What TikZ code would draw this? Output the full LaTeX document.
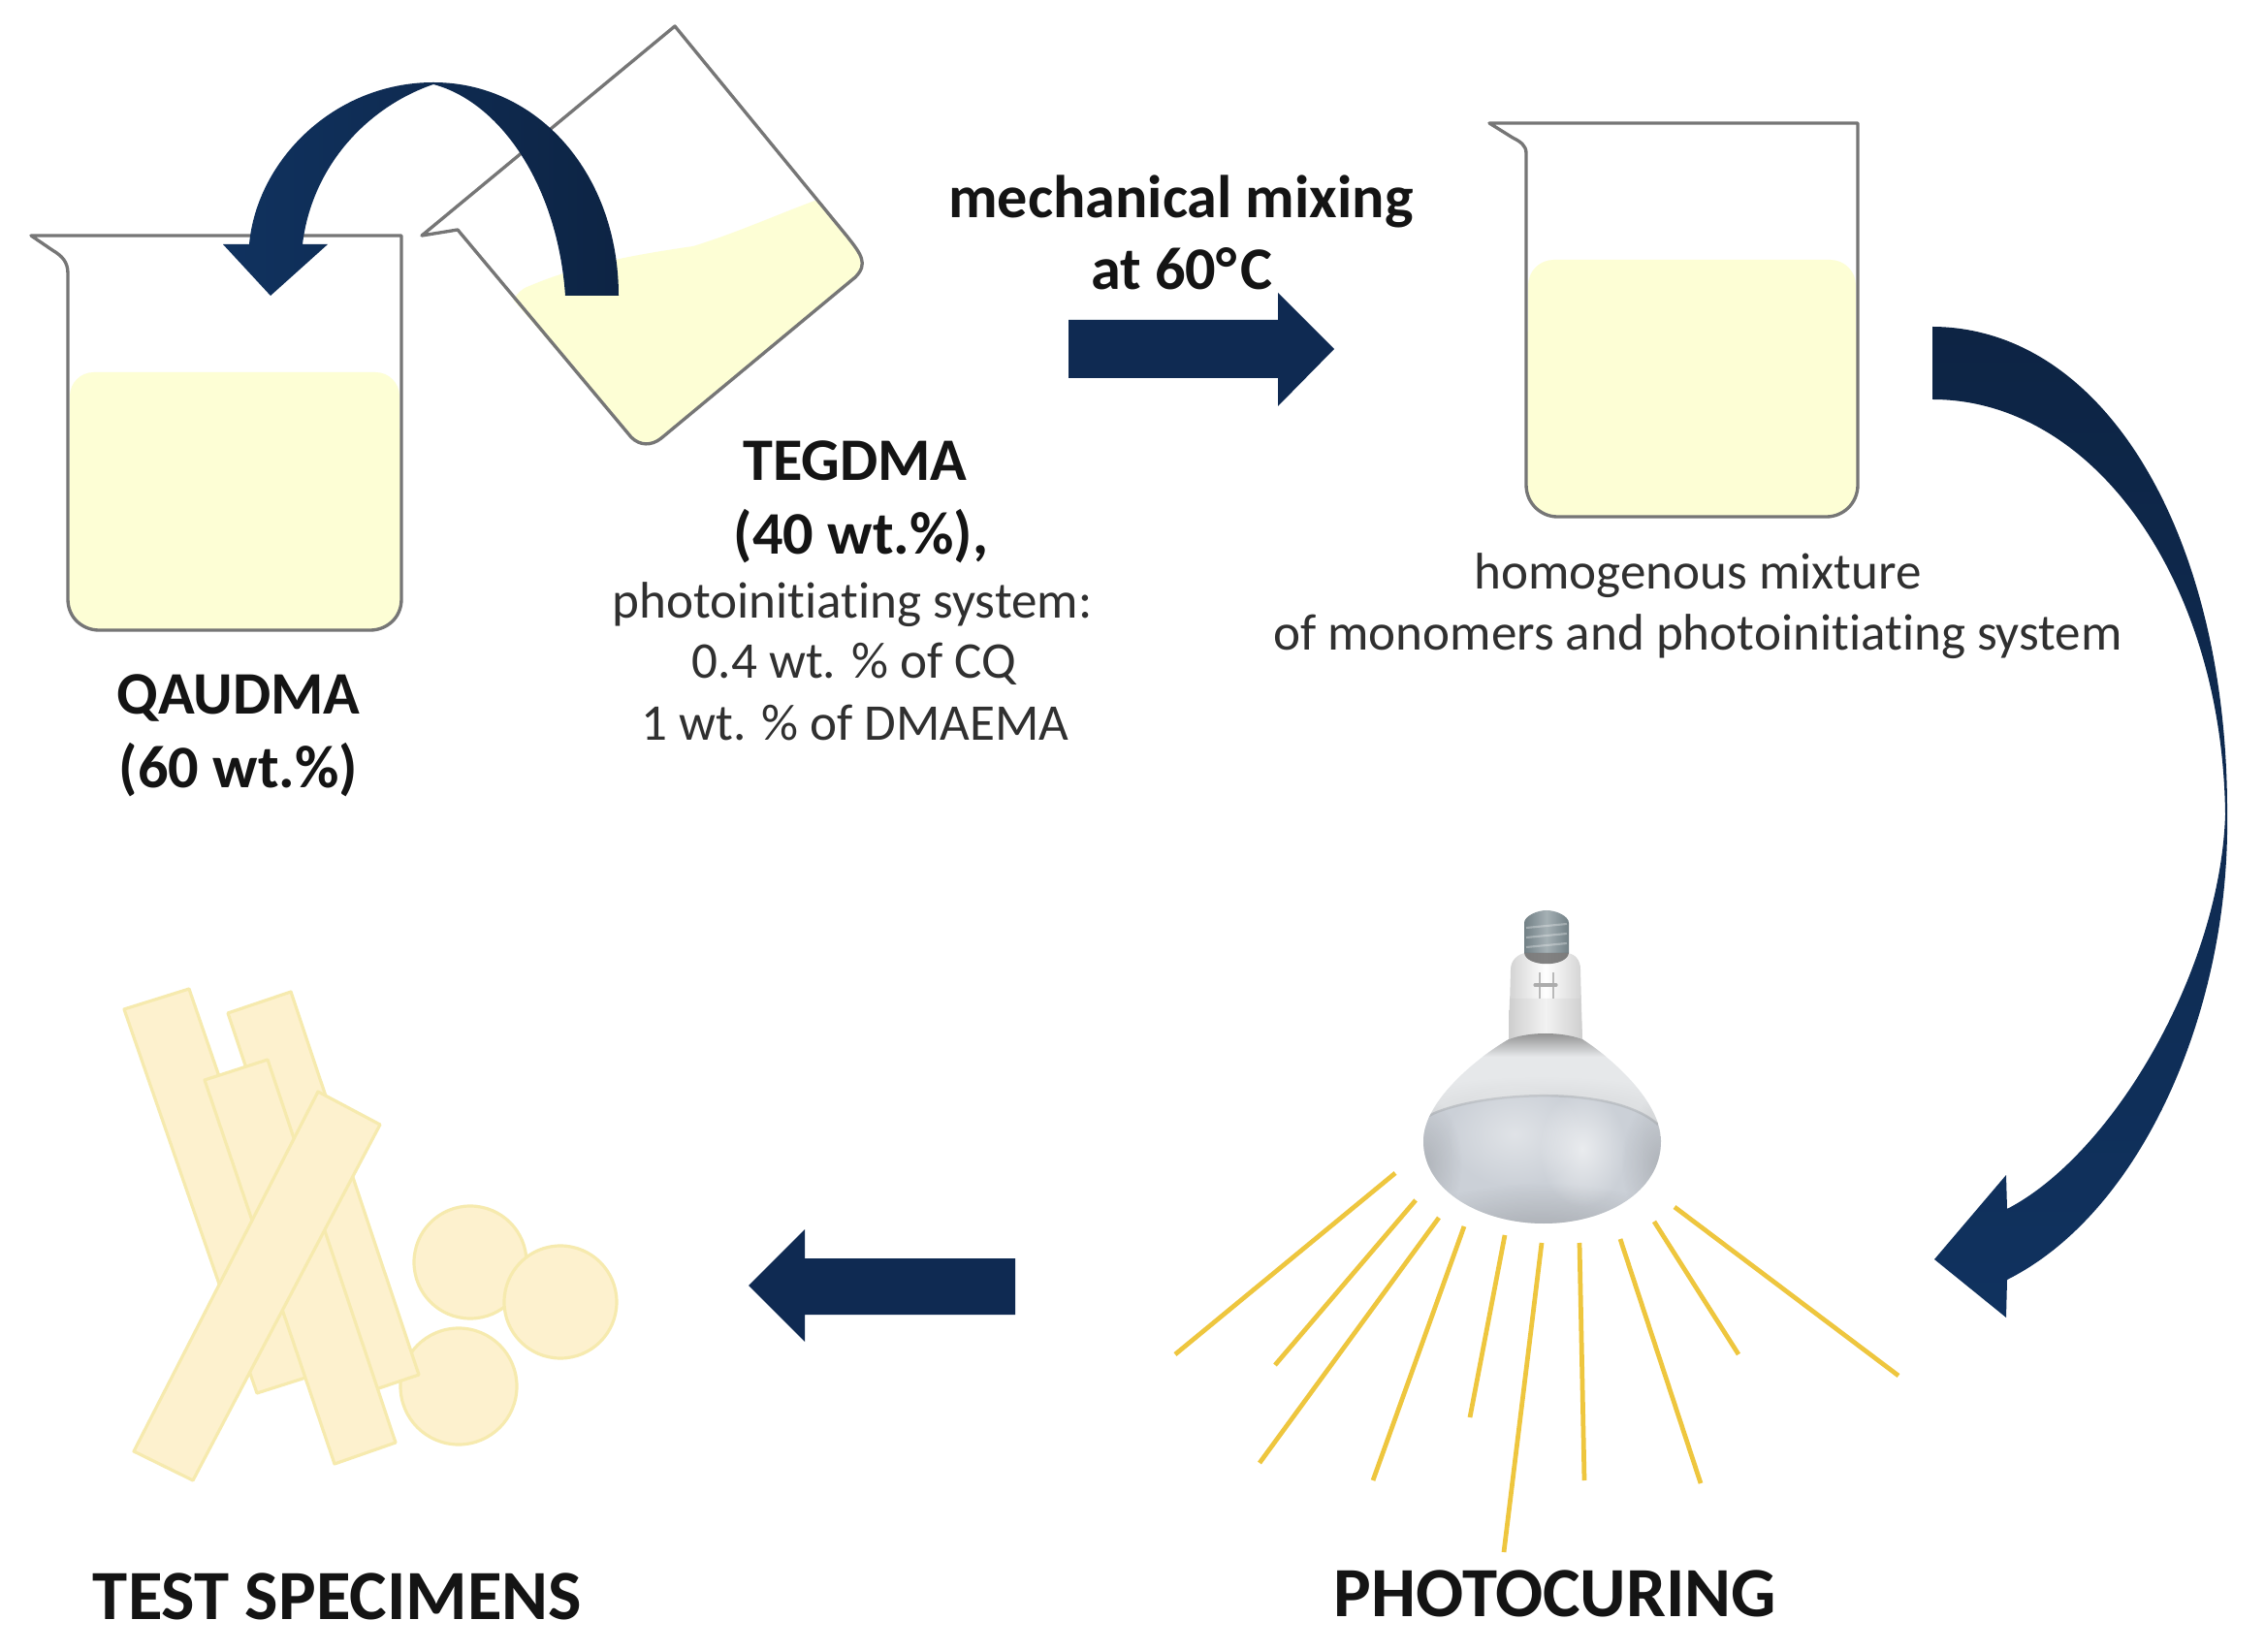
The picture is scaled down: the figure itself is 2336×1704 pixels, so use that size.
\documentclass[tikz,border=0pt]{standalone}
\usepackage{fontspec}
\setmainfont[Ligatures=NoCommon]{Carlito}
\usetikzlibrary{fadings}
\definecolor{navy}{HTML}{0F2A52}
\definecolor{navyL}{HTML}{10325F}
\definecolor{navyD}{HTML}{0D2444}
\definecolor{glassline}{HTML}{767676}
\definecolor{liquidc}{HTML}{FDFED5}
\definecolor{rayc}{HTML}{EEC63E}
\definecolor{stripf}{HTML}{FDF1CE}
\definecolor{strips}{HTML}{F6EAAE}
\definecolor{txtreg}{HTML}{303030}
\definecolor{txtbold}{HTML}{141414}
\definecolor{domeup}{HTML}{E6E8EA}
\definecolor{domelow}{HTML}{CBD0D7}
\definecolor{domeedge}{HTML}{B4B8BD}
\definecolor{screwc}{HTML}{7E8E94}
\tikzfading[name=softglow,inner color=transparent!25,outer color=transparent!100]
\tikzset{
  glass/.style={draw=glassline,line width=0.95pt,line join=round},
  liquid/.style={fill=liquidc,draw=none},
  arrowfill/.style={fill=navy,draw=none},
  raybeam/.style={draw=rayc,line width=1.35pt},
  stripbar/.style={fill=stripf,draw=strips,line width=0.9pt,line join=round},
  disc/.style={fill=stripf,draw=strips,line width=0.9pt},
  boldlab/.style={anchor=base,inner sep=0pt,font=\fontsize{17.7pt}{20pt}\selectfont\bfseries,text=txtbold},
  biglab/.style={anchor=base,inner sep=0pt,font=\fontsize{20.7pt}{23pt}\selectfont\bfseries,text=txtbold},
  reglab/.style={anchor=base,inner sep=0pt,font=\fontsize{15.1pt}{18pt}\selectfont,text=txtreg},
}
\begin{document}
\begin{tikzpicture}[x=0.01cm,y=-0.01cm]
\useasboundingbox (0,0) rectangle (2336,1704);
\fill[white] (0,0) rectangle (2336,1704);

% ---- beaker 1 (QAUDMA)
\fill[liquid,rounded corners=7pt] (72,384) -- (412,384) -- (412,500) -- (72,500) -- cycle;
\fill[liquid,rounded corners=9pt] (72,420) -- (414,420) -- (414,650) -- (70,650) -- cycle;
\draw[glass] (32,243) -- (414,243) -- (414,618) .. controls (414,638) and (398,650) .. (382,650)
  -- (102,650) .. controls (86,650) and (70,638) .. (70,618) -- (70,282)
  .. controls (70,270) and (64,264) .. (54,258) -- cycle;

% ---- beaker 2 (TEGDMA, tilted)
\fill[liquid] (530,310) .. controls (533,302) and (538,298) .. (546,295)
  .. controls (600,272) and (660,262) .. (715,254)
  .. controls (760,240) and (800,222) .. (843,206)
  -- (873,243) .. controls (888,262) and (896,272) .. (882,286)
  -- (682,452) .. controls (672,460) and (660,460) .. (651,451) -- cycle;
\draw[glass] (696,27) -- (435,243) -- (472,237) -- (651,451)
  .. controls (660,460) and (672,460) .. (682,452)
  -- (882,286) .. controls (896,272) and (888,262) .. (873,243) -- cycle;

% ---- beaker 3 (mixture)
\fill[liquid,rounded corners=7.5pt] (1576,268) -- (1914,268) -- (1914,400) -- (1576,400) -- cycle;
\fill[liquid,rounded corners=9pt] (1574,320) -- (1916,320) -- (1916,533) -- (1574,533) -- cycle;
\draw[glass] (1536,127) -- (1916,127) -- (1916,500) .. controls (1916,520) and (1900,533) .. (1884,533)
  -- (1606,533) .. controls (1590,533) and (1574,520) .. (1574,500) -- (1574,158)
  .. controls (1574,150) and (1568,146) .. (1560,142) -- cycle;

% ---- curved arrow over beakers
\shade[left color=navyL,right color=navyD] (638,305)
  .. controls (638,180) and (555,85) .. (447,85)
  .. controls (345,85) and (265,165) .. (257,252)
  -- (230,252) -- (279,305) -- (338,252) -- (312,252)
  .. controls (322,170) and (380,110) .. (447,87)
  .. controls (515,105) and (575,190) .. (583,305)
  -- cycle;

% ---- straight arrows
\fill[arrowfill] (1102,330) -- (1318,330) -- (1318,302) -- (1376,360) -- (1318,419) -- (1318,390) -- (1102,390) -- cycle;
\fill[arrowfill] (1047,1298) -- (830,1298) -- (830,1268) -- (772,1326) -- (830,1384) -- (830,1356) -- (1047,1356) -- cycle;

% ---- large curved arrow at right
\shade[top color=navyD,bottom color=navyL] (1993,337)
  .. controls (2175,338) and (2298,560) .. (2297,840)
  .. controls (2300,1040) and (2210,1250) .. (2070,1320)
  -- (2069,1359) -- (1995,1299) -- (2069,1212) -- (2070,1247)
  .. controls (2180,1190) and (2290,1000) .. (2295,840)
  .. controls (2292,600) and (2160,412) .. (1993,412)
  -- cycle;

% ---- specimens
\draw[disc] (485,1302) circle (58);
\draw[disc] (578,1343) circle (58);
\draw[disc] (473,1430) circle (60);
\draw[stripbar] (128,1041) -- (195,1020) -- (331,1416) -- (265,1437) -- cycle;
\draw[stripbar] (235,1045) -- (300,1023) -- (432,1418) -- (367,1440) -- cycle;
\draw[stripbar] (211,1114) -- (276,1093) -- (408,1488) -- (345,1510) -- cycle;
\draw[stripbar] (328,1126) -- (392,1160) -- (199,1527) -- (138,1497) -- cycle;

% ---- light rays
\draw[raybeam] (1439,1210) -- (1212,1397);
\draw[raybeam] (1460,1238) -- (1315,1408);
\draw[raybeam] (1484,1256) -- (1299,1509);
\draw[raybeam] (1510,1265) -- (1416,1527);
\draw[raybeam] (1552,1274) -- (1516,1462);
\draw[raybeam] (1590,1282) -- (1551,1601);
\draw[raybeam] (1629,1282) -- (1634,1527);
\draw[raybeam] (1671,1278) -- (1754,1530);
\draw[raybeam] (1706,1260) -- (1793,1397);
\draw[raybeam] (1727,1245) -- (1958,1419);

% ---- bulb: neck
\shade[left color=gray!35,right color=gray!35,middle color=white]
  (1556,1072) -- (1558,1000) .. controls (1558,990) and (1566,984) .. (1573,983)
  -- (1617,983) .. controls (1624,984) and (1630,990) .. (1630,1000) -- (1632,1072) -- cycle;
\shade[left color=gray!38,right color=gray!38,middle color=gray!10] (1557,1030) -- (1630,1030) -- (1632,1072) -- (1556,1072) -- cycle;
\draw[gray!55,line width=.3pt] (1588,1003) -- (1588,1030) (1602,1003) -- (1602,1030);
\draw[gray!65,line width=.9pt,line cap=round] (1583,1016) -- (1605,1016);
% screw base
\shade[left color=screwc!90!black,right color=screwc!90!black,middle color=screwc!70!white] (1572,983) -- (1572,952)
  .. controls (1572,945) and (1585,939) .. (1595,939)
  .. controls (1605,939) and (1618,945) .. (1618,952) -- (1618,983) -- cycle;
\draw[white,opacity=.3,line width=.6pt] (1574,957) -- (1616,953) (1574,967) -- (1616,963) (1574,977) -- (1616,973);
\fill[black!65,opacity=.75] (1572,983) -- (1618,983) .. controls (1616,998) and (1574,998) .. (1572,983) -- cycle;
% reflector
\begin{scope}
\clip (1556,1072) .. controls (1525,1090) and (1468,1135) .. (1468,1177)
  .. controls (1468,1230) and (1530,1262) .. (1592,1262)
  .. controls (1655,1262) and (1713,1230) .. (1713,1177)
  .. controls (1713,1135) and (1660,1090) .. (1632,1072)
  .. controls (1610,1064) and (1578,1064) .. (1556,1072) -- cycle;
\fill[domeup] (1440,1050) rectangle (1740,1280);
\shade[top color=black!45,bottom color=domeup] (1440,1064) rectangle (1740,1090);
\fill[black,opacity=.1,path fading=softglow] (1590,1150) ellipse (170 and 40);
\fill[domelow] (1470,1153) .. controls (1510,1128) and (1660,1115) .. (1710,1160) -- (1740,1290) -- (1440,1290) -- cycle;
\draw[domeedge,line width=.7pt,opacity=.7] (1470,1153) .. controls (1510,1128) and (1660,1115) .. (1710,1160);
\fill[black,opacity=.3,path fading=softglow] (1590,1290) ellipse (170 and 70);
\fill[black,opacity=.18,path fading=softglow] (1468,1200) ellipse (40 and 70);
\fill[black,opacity=.18,path fading=softglow] (1712,1200) ellipse (40 and 70);
\fill[white,opacity=.55,path fading=softglow] (1562,1170) ellipse (70 and 55);
\fill[white,opacity=.8,path fading=softglow] (1632,1185) ellipse (45 and 60);
\end{scope}

% ---- labels
\node[boldlab] (mix1) at (1218,225) {mechanical mixing};
\node[boldlab] (mix2) at (1219,299) {at 60°\kern0.06em C};
\node[boldlab] (teg1) at (882,496) {TEGDMA};
\node[boldlab] (teg2) at (888,572) {(40 wt.\%),};
\node[reglab] (teg3) at (879,638) {photoinitiating system:};
\node[reglab] (teg4) at (881,700) {0.4 wt. \% of CQ};
\node[reglab] (teg5) at (882,764) {1 wt. \% of DMAEMA};
\node[boldlab] (qau1) at (246,737) {QAUDMA};
\node[boldlab] (qau2) at (246,813) {(60 wt.\%)};
\node[reglab] (hom1) at (1751,608) {homogenous mixture};
\node[reglab] (hom2) at (1751,671) {of monomers and photoinitiating system};
\node[biglab] (test) at (348,1670) {TEST SPECIMENS};
\node[biglab] (phot) at (1604,1667) {PHOTOCURING};
\end{tikzpicture}
\end{document}
